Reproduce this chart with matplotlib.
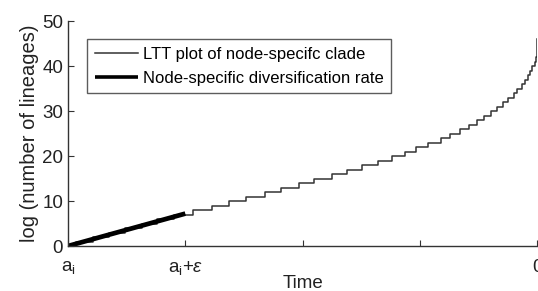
import numpy as np
import matplotlib
matplotlib.use("Agg")
import matplotlib.pyplot as plt

plt.rcParams["font.family"] = ["Liberation Sans", "DejaVu Sans"]
plt.rcParams["mathtext.fontset"] = "custom"
plt.rcParams["mathtext.rm"] = "Liberation Sans"
plt.rcParams["mathtext.it"] = "Liberation Sans:italic"

# LTT staircase: time at which the clade reaches each lineage level
step_times = [0.07, 0.21, 0.35, 0.49, 0.63, 0.76, 0.90, 1.07, 1.23, 1.37,
              1.52, 1.68, 1.82, 1.97, 2.10, 2.25, 2.38, 2.51, 2.64, 2.76,
              2.87, 2.97, 3.07, 3.18, 3.26, 3.34, 3.42, 3.49, 3.55, 3.61,
              3.66, 3.71, 3.75, 3.80, 3.83, 3.87, 3.90, 3.92, 3.94, 3.96,
              3.98, 3.99, 3.995, 3.997, 3.999, 4.0]
step_levels = list(range(1, 47))

# node-specific rate line (from a_i to a_i + eps)
rate_x = [0.0, 1.0]
rate_y = [0.0, 7.2]

x_ticks = [0, 1, 2, 3, 4]
x_labels = [r"$\mathrm{a}_\mathrm{i}$", r"$\mathrm{a}_\mathrm{i}\mathrm{+}\epsilon$", "", "", "0"]
y_ticks = [0, 10, 20, 30, 40, 50]

fig = plt.figure(figsize=(5.38, 2.91), dpi=100)
ax = fig.add_axes([0.1264, 0.1546, 0.872, 0.7732])

xs = [0.0] + step_times
ys = [0] + step_levels
ax.step(xs, ys, where="post", color="#333333", lw=1.1,
        label="LTT plot of node-specifc clade")
ax.plot(rate_x, rate_y, color="black", lw=3.4, solid_capstyle="butt",
        label="Node-specific diversification rate")

ax.set_xlim(0, 4)
ax.set_ylim(0, 50)
ax.set_xticks(x_ticks)
ax.set_xticklabels(x_labels)
ax.set_yticks(y_ticks)
ax.tick_params(direction="in", length=4, labelsize=13.5, colors="#333333",
               labelcolor="#222222")
ax.tick_params(axis="x", pad=9)
for s in ["top", "right"]:
    ax.spines[s].set_visible(False)
for s in ["left", "bottom"]:
    ax.spines[s].set_color("#333333")
    ax.spines[s].set_linewidth(1.0)

ax.set_xlabel("Time", fontsize=13.5, labelpad=-1, color="#222222")
ax.set_ylabel("log (number of lineages)", fontsize=14.5, labelpad=2, color="#222222")

leg = ax.legend(loc="upper left", bbox_to_anchor=(0.0405, 0.92), fontsize=12,
                frameon=True, fancybox=False, edgecolor="#333333",
                handlelength=2.6, handletextpad=0.3, borderpad=0.45,
                labelspacing=0.55, borderaxespad=0)
leg.get_lines()[1].set_linewidth(2.6)
leg.get_frame().set_linewidth(1.0)

fig.savefig("out.png", dpi=100)
